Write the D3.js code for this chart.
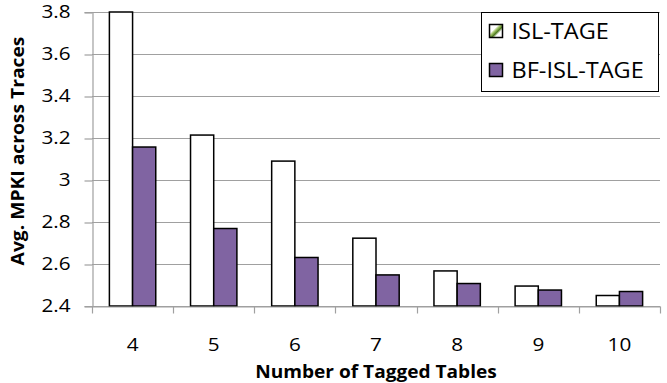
<!DOCTYPE html>
<html>
<head>
<meta charset="utf-8">
<script src="https://cdn.jsdelivr.net/npm/d3@7/dist/d3.min.js"></script>
<style>
  html, body { margin: 0; padding: 0; background: #fff; }
  svg { display: block; }
  text { font-family: "Open Sans", sans-serif; fill: #000; }
</style>
</head>
<body>
<svg id="chart" width="667" height="383"></svg>
<script>
// Average MPKI per number of tagged tables
const categories = ["4", "5", "6", "7", "8", "9", "10"];
const seriesNames = ["ISL-TAGE", "BF-ISL-TAGE"];
const islTage   = [3.80, 3.214, 3.09, 2.723, 2.567, 2.495, 2.45];
const bfIslTage = [3.157, 2.769, 2.631, 2.548, 2.507, 2.476, 2.469];
const yTicks = [2.4, 2.6, 2.8, 3, 3.2, 3.4, 3.6, 3.8];
const yTickLabels = ["2.4", "2.6", "2.8", "3", "3.2", "3.4", "3.6", "3.8"];

const colors = ["#ffffff", "#8064a2"];
const series = [islTage, bfIslTage];

const svg = d3.select("#chart");
const plot = { left: 92, right: 660, top: 12, bottom: 306 };
const font = "'Open Sans', sans-serif";

// stretch text horizontally to get the wide, short lettering
function widen(sel, factor) {
  sel.each(function () {
    const len = this.getComputedTextLength();
    d3.select(this)
      .attr("textLength", len * factor)
      .attr("lengthAdjust", "spacingAndGlyphs");
  });
}

const x = d3.scaleBand()
  .domain(categories)
  .range([plot.left, plot.right])
  .paddingInner(0)
  .paddingOuter(0);

const inner = d3.scaleBand()
  .domain(seriesNames)
  .range([0, x.bandwidth()])
  .paddingInner(0)
  .paddingOuter(0.75);

const y = d3.scaleLinear()
  .domain([2.4, 3.8])
  .range([plot.bottom, plot.top]);

// horizontal gridlines
svg.append("g")
  .selectAll("line")
  .data(yTicks)
  .join("line")
  .attr("x1", plot.left)
  .attr("x2", plot.right)
  .attr("y1", d => Math.round(y(d)) + 0.5)
  .attr("y2", d => Math.round(y(d)) + 0.5)
  .attr("stroke", "#a0a0a0")
  .attr("stroke-width", 1.2);

// y axis
const yAxis = d3.axisLeft(y)
  .tickValues(yTicks)
  .tickFormat((d, i) => yTickLabels[i])
  .tickSize(8)
  .tickPadding(14);

const gy = svg.append("g")
  .attr("transform", `translate(${plot.left + 0.5},0)`)
  .call(yAxis);
gy.select(".domain").attr("stroke", "#a0a0a0").attr("stroke-width", 1.2);
gy.selectAll(".tick line")
  .attr("stroke", "#a0a0a0")
  .attr("stroke-width", 1.2)
  .attr("transform", d => `translate(0,${Math.round(y(d)) + 0.5 - y(d)})`);
gy.selectAll(".tick text")
  .style("font-size", "18px")
  .style("font-family", font)
  .attr("fill", "#000")
  .call(widen, 1.15);

// bars
const groups = svg.append("g")
  .selectAll("g")
  .data(seriesNames)
  .join("g");

groups.each(function (name, si) {
  d3.select(this)
    .selectAll("rect")
    .data(series[si])
    .join("rect")
    .attr("x", (d, i) => x(categories[i]) + inner(name))
    .attr("y", d => y(d))
    .attr("width", inner.bandwidth())
    .attr("height", d => plot.bottom - y(d))
    .attr("fill", colors[si])
    .attr("stroke", "#000")
    .attr("stroke-width", 1.5);
});

// x axis
const xAxis = d3.axisBottom(x).tickSize(0).tickPadding(32);
const gx = svg.append("g")
  .attr("transform", `translate(0,${plot.bottom + 0.5})`)
  .call(xAxis);
gx.select(".domain").attr("stroke", "#a0a0a0").attr("stroke-width", 1.2);
gx.selectAll(".tick text")
  .style("font-size", "18px")
  .style("font-family", font)
  .attr("fill", "#000")
  .call(widen, 1.15);

// category separators below the axis
const edges = categories.map(c => x(c)).concat([plot.right]);
gx.append("g")
  .selectAll("line")
  .data(edges)
  .join("line")
  .attr("x1", d => Math.round(d) + 0.5)
  .attr("x2", d => Math.round(d) + 0.5)
  .attr("y1", 0)
  .attr("y2", 7)
  .attr("stroke", "#a0a0a0")
  .attr("stroke-width", 1.2);

// axis titles
svg.append("text")
  .attr("x", (plot.left + plot.right) / 2)
  .attr("y", 378)
  .attr("text-anchor", "middle")
  .style("font-size", "18px")
  .style("font-weight", "bold")
  .text("Number of Tagged Tables")
  .call(widen, 1.06);

svg.append("text")
  .attr("transform", "translate(24,151) rotate(-90)")
  .attr("text-anchor", "middle")
  .style("font-size", "18px")
  .style("font-weight", "bold")
  .text("Avg. MPKI across Traces")
  .call(widen, 1.07);

// legend
const defs = svg.append("defs");
const grad = defs.append("linearGradient")
  .attr("id", "islSwatch")
  .attr("x1", "0").attr("y1", "0").attr("x2", "1").attr("y2", "1");
grad.append("stop").attr("offset", "0.35").attr("stop-color", "#ffffff");
grad.append("stop").attr("offset", "0.45").attr("stop-color", "#a8c870");
grad.append("stop").attr("offset", "0.58").attr("stop-color", "#4e7a1e");
grad.append("stop").attr("offset", "0.70").attr("stop-color", "#ffffff");

const legend = svg.append("g").attr("transform", "translate(481.5,12.5)");
legend.append("rect")
  .attr("width", 177)
  .attr("height", 79)
  .attr("fill", "#fff")
  .attr("stroke", "#000")
  .attr("stroke-width", 1);

const swatchFills = ["url(#islSwatch)", colors[1]];
const entry = legend.selectAll("g.entry")
  .data(seriesNames)
  .join("g")
  .attr("class", "entry")
  .attr("transform", (d, i) => `translate(8,${12 + i * 39})`);
entry.append("rect")
  .attr("width", 13)
  .attr("height", 13)
  .attr("fill", (d, i) => swatchFills[i])
  .attr("stroke", "#000")
  .attr("stroke-width", 1.5);
entry.append("text")
  .attr("x", 22)
  .attr("y", 14)
  .style("font-size", "21px")
  .text(d => d)
  .call(widen, 1.12);
</script>
</body>
</html>
